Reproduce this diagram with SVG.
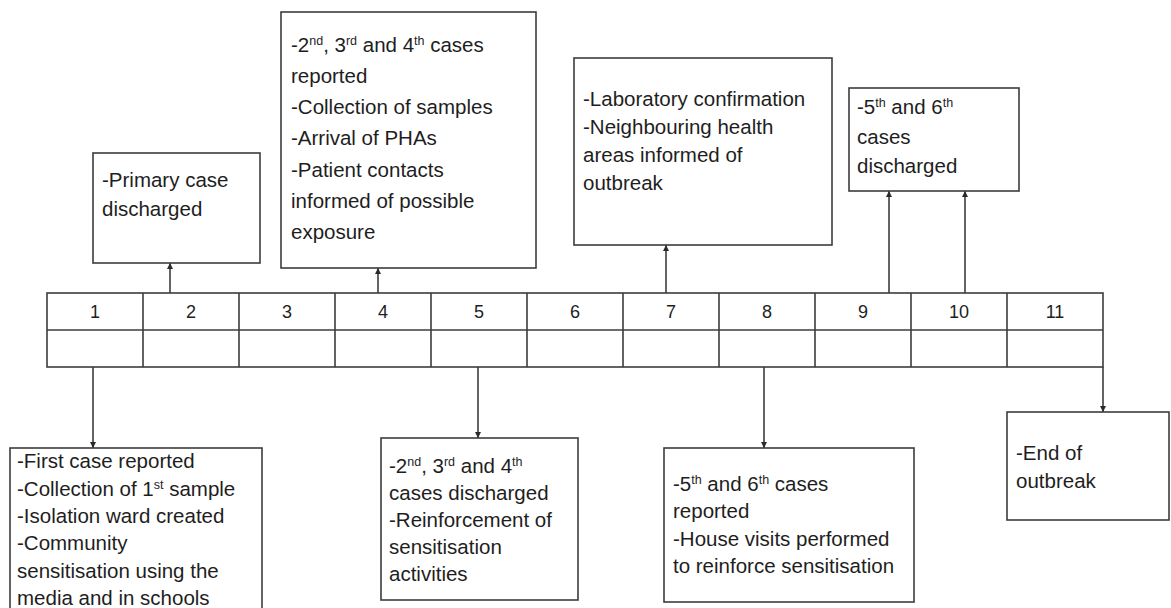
<svg xmlns="http://www.w3.org/2000/svg" width="1171" height="608" viewBox="0 0 1171 608">
<style>
  .box{fill:#ffffff;stroke:#3c3c3c;stroke-width:1.6}
  .grid{fill:none;stroke:#3c3c3c;stroke-width:1.6}
  .t{font-family:"Liberation Sans",Arial,sans-serif;font-size:20.5px;fill:#1e1e1e}
  .num{font-family:"Liberation Sans",Arial,sans-serif;font-size:18px;fill:#1e1e1e;text-anchor:middle}
  .sup{font-size:12.5px;baseline-shift:7px}
  .conn{stroke:#3c3c3c;stroke-width:1.6;fill:none;marker-end:url(#ah)}
</style>
<defs>
  <marker id="ah" viewBox="0 0 10 10" refX="10" refY="5" markerWidth="4" markerHeight="4" orient="auto" markerUnits="strokeWidth">
    <path d="M0,0 L10,5 L0,10 z" fill="#2a2a2a"/>
  </marker>
</defs>
<rect width="1171" height="608" fill="#ffffff"/>

<g id="timeline">
  <rect class="grid" x="47" y="293" width="1056" height="74"/>
  <line class="grid" x1="47" y1="330" x2="1103" y2="330"/>
  <path class="grid" d="M143,293V367M239,293V367M335,293V367M431,293V367M527,293V367M623,293V367M719,293V367M815,293V367M911,293V367M1007,293V367"/>
  <text class="num" x="95" y="318">1</text>
  <text class="num" x="191" y="318">2</text>
  <text class="num" x="287" y="318">3</text>
  <text class="num" x="383" y="318">4</text>
  <text class="num" x="479" y="318">5</text>
  <text class="num" x="575" y="318">6</text>
  <text class="num" x="671" y="318">7</text>
  <text class="num" x="767" y="318">8</text>
  <text class="num" x="863" y="318">9</text>
  <text class="num" x="959" y="318">10</text>
  <text class="num" x="1055" y="318">11</text>
</g>

<g id="connectors">
  <line class="conn" x1="170" y1="293" x2="170" y2="263"/>
  <line class="conn" x1="378" y1="293" x2="378" y2="268"/>
  <line class="conn" x1="666" y1="293" x2="666" y2="245"/>
  <line class="conn" x1="889" y1="293" x2="889" y2="191"/>
  <line class="conn" x1="965" y1="293" x2="965" y2="191"/>
  <line class="conn" x1="93" y1="367" x2="93" y2="448"/>
  <line class="conn" x1="478" y1="367" x2="478" y2="438"/>
  <line class="conn" x1="764" y1="367" x2="764" y2="448"/>
  <line class="conn" x1="1103" y1="367" x2="1103" y2="412"/>
</g>

<g id="node-day2">
  <rect class="box" x="93" y="153" width="167" height="110"/>
  <text class="t" x="102" y="187">-Primary case</text>
  <text class="t" x="102" y="216">discharged</text>
</g>

<g id="node-day4">
  <rect class="box" x="281" y="12" width="255" height="256"/>
  <text class="t" x="291" y="52">-2<tspan class="sup">nd</tspan>, 3<tspan class="sup">rd</tspan> and 4<tspan class="sup">th</tspan> cases</text>
  <text class="t" x="291" y="83">reported</text>
  <text class="t" x="291" y="114">-Collection of samples</text>
  <text class="t" x="291" y="145">-Arrival of PHAs</text>
  <text class="t" x="291" y="177">-Patient contacts</text>
  <text class="t" x="291" y="208">informed of possible</text>
  <text class="t" x="291" y="239">exposure</text>
</g>

<g id="node-day7">
  <rect class="box" x="574" y="58" width="258" height="187"/>
  <text class="t" x="583" y="106">-Laboratory confirmation</text>
  <text class="t" x="583" y="134">-Neighbouring health</text>
  <text class="t" x="583" y="162">areas informed of</text>
  <text class="t" x="583" y="190">outbreak</text>
</g>

<g id="node-day9-10">
  <rect class="box" x="849" y="88" width="170" height="103"/>
  <text class="t" x="857" y="114">-5<tspan class="sup">th</tspan> and 6<tspan class="sup">th</tspan></text>
  <text class="t" x="857" y="144">cases</text>
  <text class="t" x="857" y="173">discharged</text>
</g>

<g id="node-day1">
  <rect class="box" x="10" y="448" width="252" height="170"/>
  <text class="t" x="17" y="468">-First case reported</text>
  <text class="t" x="17" y="496">-Collection of 1<tspan class="sup">st</tspan> sample</text>
  <text class="t" x="17" y="523">-Isolation ward created</text>
  <text class="t" x="17" y="550">-Community</text>
  <text class="t" x="17" y="578">sensitisation using the</text>
  <text class="t" x="17" y="605">media and in schools</text>
</g>

<g id="node-day5">
  <rect class="box" x="381" y="438" width="197" height="162"/>
  <text class="t" x="389" y="473">-2<tspan class="sup">nd</tspan>, 3<tspan class="sup">rd</tspan> and 4<tspan class="sup">th</tspan></text>
  <text class="t" x="389" y="500">cases discharged</text>
  <text class="t" x="389" y="527">-Reinforcement of</text>
  <text class="t" x="389" y="554">sensitisation</text>
  <text class="t" x="389" y="581">activities</text>
</g>

<g id="node-day8">
  <rect class="box" x="664" y="448" width="250" height="154"/>
  <text class="t" x="673" y="491">-5<tspan class="sup">th</tspan> and 6<tspan class="sup">th</tspan> cases</text>
  <text class="t" x="673" y="518">reported</text>
  <text class="t" x="673" y="546">-House visits performed</text>
  <text class="t" x="673" y="573">to reinforce sensitisation</text>
</g>

<g id="node-day11">
  <rect class="box" x="1007" y="412" width="162" height="108"/>
  <text class="t" x="1016" y="460">-End of</text>
  <text class="t" x="1016" y="488">outbreak</text>
</g>
</svg>
